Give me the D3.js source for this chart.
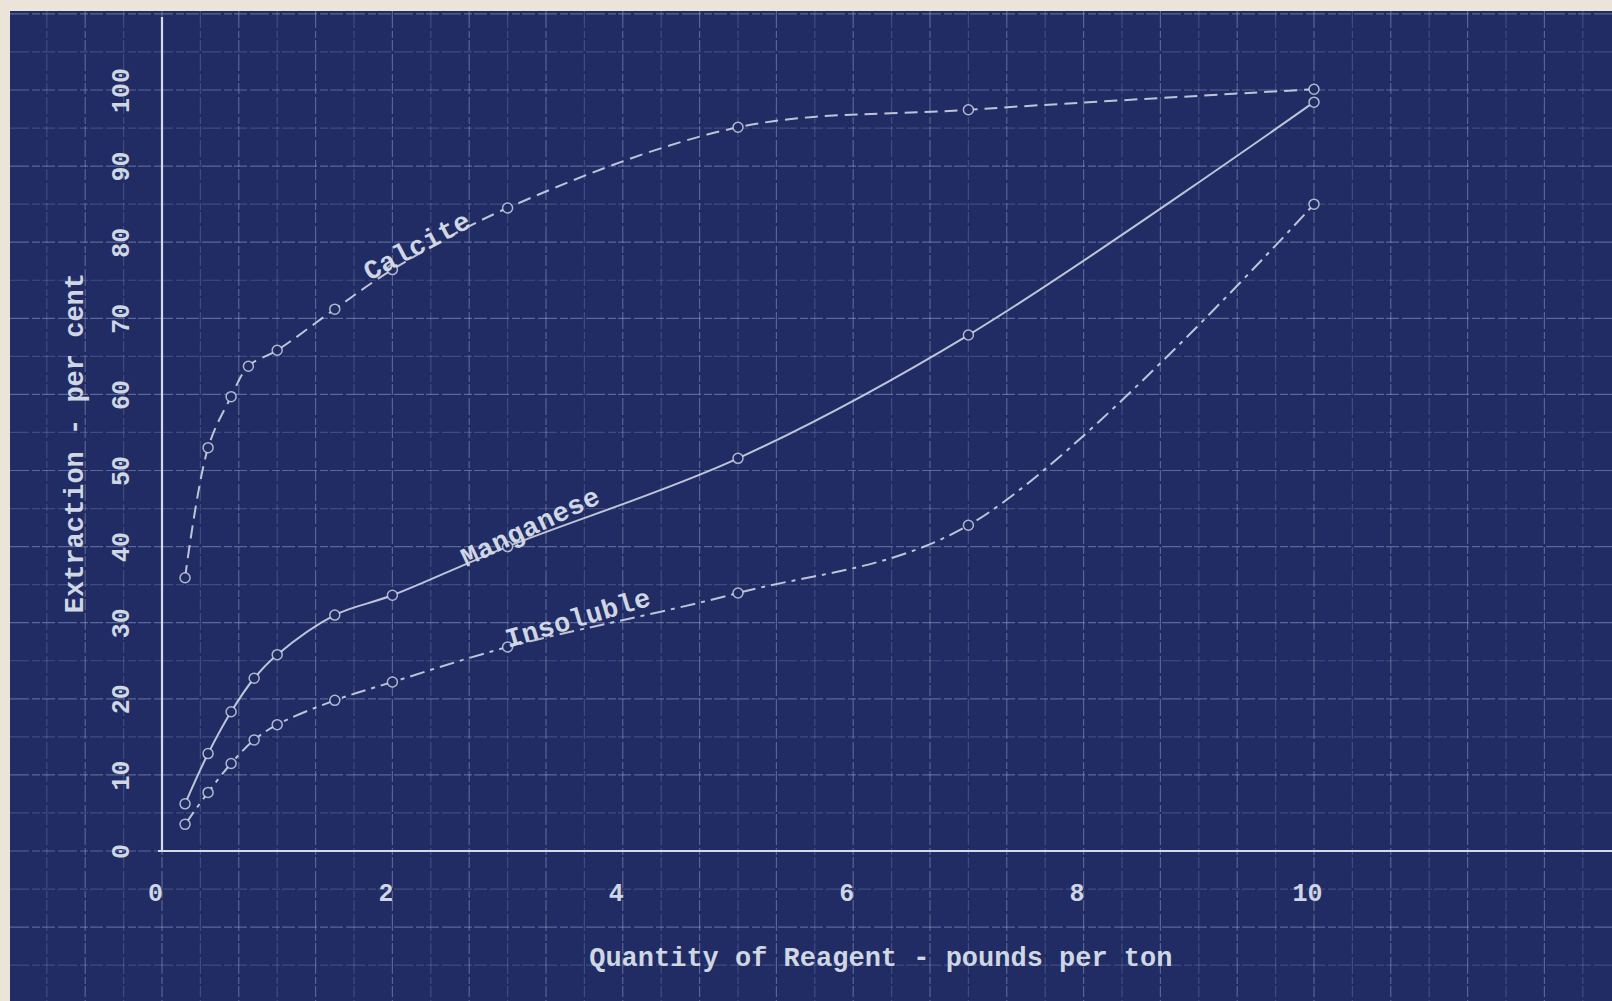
<!DOCTYPE html>
<html>
<head>
<meta charset="utf-8">
<script src="https://cdn.jsdelivr.net/npm/d3@7"></script>
<style>
  html, body { margin: 0; padding: 0; background: #ece4d8; }
  svg { display: block; }
  text { font-family: "Liberation Mono", "DejaVu Sans Mono", monospace; font-weight: bold; fill: #cfd6e4; }
</style>
</head>
<body>
<svg id="chart" width="1612" height="1001"></svg>
<script>
// ---- data ----
const calciteX   = [0.2, 0.4, 0.6, 0.75, 1.0, 1.5, 2, 3, 5, 7, 10];
const calciteY   = [35.9, 53.0, 59.7, 63.7, 65.8, 71.2, 76.4, 84.5, 95.1, 97.4, 100.1];
const manganeseX = [0.2, 0.4, 0.6, 0.8, 1.0, 1.5, 2, 3, 5, 7, 10];
const manganeseY = [6.2, 12.8, 18.3, 22.7, 25.8, 31.0, 33.6, 40.0, 51.6, 67.8, 98.4];
const insolubleX = [0.2, 0.4, 0.6, 0.8, 1.0, 1.5, 2, 3, 5, 7, 10];
const insolubleY = [3.5, 7.7, 11.5, 14.6, 16.6, 19.8, 22.2, 26.8, 33.9, 42.8, 85.0];
const seriesNames = ["Calcite", "Manganese", "Insoluble"];
const xTickValues = [0, 2, 4, 6, 8, 10];
const yTickValues = [0, 10, 20, 30, 40, 50, 60, 70, 80, 90, 100];
const xTitle = "Quantity of Reagent - pounds per ton";
const yTitle = "Extraction - per cent";

// ---- layout ----
const W = 1612, H = 1001;
const svg = d3.select("#chart");
const x = d3.scaleLinear().domain([0, 10]).range([162, 1314]);
const y = d3.scaleLinear().domain([0, 100]).range([851, 90]);

const paper = { left: 10, top: 11 };
const ink = "#d4dae8";
const bg = "#202c63";

// paper + blueprint background
svg.append("rect").attr("width", W).attr("height", H).attr("fill", "#ece4d8");
svg.append("rect").attr("x", paper.left).attr("y", paper.top)
  .attr("width", W - paper.left).attr("height", H - paper.top).attr("fill", bg);

svg.append("clipPath").attr("id", "bp").append("rect")
  .attr("x", paper.left).attr("y", paper.top).attr("width", W - paper.left).attr("height", H - paper.top);

// grid (graph-paper squares: 1/3 lb horizontally, 5 % vertically)
const grid = svg.append("g").attr("clip-path", "url(#bp)");
const vx = d3.range(-4, 38).map(k => k / 3);
const hy = d3.range(-20, 115, 5);
grid.selectAll("line.v").data(vx).join("line")
  .attr("x1", d => x(d)).attr("x2", d => x(d))
  .attr("y1", paper.top).attr("y2", H)
  .attr("stroke", "#c4cff0")
  .attr("stroke-opacity", d => (Math.round(d * 3) % 2 === 0 ? 0.34 : 0.2))
  .attr("stroke-width", 1.2)
  .attr("stroke-dasharray", "17,3,7,2,11,3");
grid.selectAll("line.h").data(hy).join("line")
  .attr("y1", d => y(d)).attr("y2", d => y(d))
  .attr("x1", paper.left).attr("x2", W)
  .attr("stroke", "#c4cff0")
  .attr("stroke-opacity", d => (d % 10 === 0 ? 0.36 : 0.2))
  .attr("stroke-width", 1.2)
  .attr("stroke-dasharray", "19,3,8,2,13,3");

// axes lines
svg.append("line").attr("x1", x(0)).attr("x2", x(0)).attr("y1", 17).attr("y2", y(0))
  .attr("stroke", ink).attr("stroke-width", 2.2);
svg.append("line").attr("x1", x(0) - 4).attr("x2", W).attr("y1", y(0)).attr("y2", y(0))
  .attr("stroke", ink).attr("stroke-width", 2.2);

// x tick labels
const xAxis = d3.axisBottom(x).tickValues(xTickValues).tickSize(0).tickFormat(d3.format("d"));
const gx = svg.append("g").attr("transform", `translate(0, ${y(0)})`).call(xAxis);
gx.select(".domain").remove();
gx.selectAll("text")
  .attr("y", 0).attr("dy", 0)
  .attr("transform", "translate(-7, 50)")
  .style("font-size", "25px").style("font-family", "Liberation Mono, monospace")
  .style("font-weight", "bold").attr("fill", ink);

// y tick labels (rotated)
const yAxis = d3.axisLeft(y).tickValues(yTickValues).tickSize(0).tickFormat(d3.format("d"));
const gy = svg.append("g").attr("transform", `translate(${x(0)}, 0)`).call(yAxis);
gy.select(".domain").remove();
gy.selectAll("text")
  .attr("x", 0).attr("dy", 0).attr("y", 0)
  .attr("text-anchor", "middle")
  .attr("transform", "translate(-24, 0) rotate(-90) translate(0, -9)")
  .style("font-size", "25px").style("font-family", "Liberation Mono, monospace")
  .style("font-weight", "bold").attr("fill", ink);

// axis titles
svg.append("text")
  .attr("x", x(6.24)).attr("y", y(-15.1))
  .attr("text-anchor", "middle")
  .style("font-size", "27px")
  .text(xTitle);
svg.append("text")
  .attr("transform", `translate(83, ${y(53.6)}) rotate(-90)`)
  .attr("text-anchor", "middle")
  .style("font-size", "27px")
  .text(yTitle);

// curves
const series = [
  { name: seriesNames[0], xs: calciteX, ys: calciteY, dash: "13,7" },
  { name: seriesNames[1], xs: manganeseX, ys: manganeseY, dash: null },
  { name: seriesNames[2], xs: insolubleX, ys: insolubleY, dash: "15,6,4,6" }
];
const line = d3.line().x(d => x(d[0])).y(d => y(d[1])).curve(d3.curveCatmullRom.alpha(0.5));

series.forEach(s => {
  const pts = s.xs.map((v, i) => [v, s.ys[i]]);
  svg.append("path").datum(pts)
    .attr("d", line)
    .attr("fill", "none")
    .attr("stroke", ink)
    .attr("stroke-width", 2)
    .attr("stroke-opacity", 0.88)
    .attr("stroke-dasharray", s.dash);
  svg.append("g").selectAll("circle").data(pts).join("circle")
    .attr("cx", d => x(d[0])).attr("cy", d => y(d[1])).attr("r", 5)
    .attr("fill", bg)
    .attr("stroke", ink).attr("stroke-width", 1.5).attr("stroke-opacity", 0.8);
});

// curve labels (placed in data coordinates, rotated along the curve)
const labelPos = [
  { name: seriesNames[0], x: 2.21, y: 79.6, angle: -28 },
  { name: seriesNames[1], x: 3.195, y: 42.7, angle: -25.5 },
  { name: seriesNames[2], x: 3.61, y: 30.7, angle: -16.5 }
];
svg.append("g").selectAll("text").data(labelPos).join("text")
  .attr("transform", d => `translate(${x(d.x)}, ${y(d.y)}) rotate(${d.angle})`)
  .attr("text-anchor", "middle")
  .attr("dy", "0.35em")
  .style("font-size", "27px")
  .style("letter-spacing", "0.5px")
  .text(d => d.name);
</script>
</body>
</html>
